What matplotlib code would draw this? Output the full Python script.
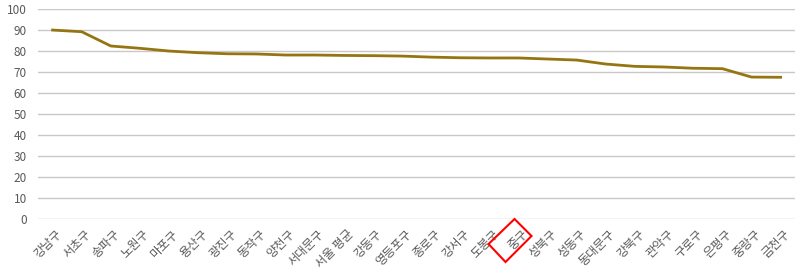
import matplotlib.pyplot as plt
import matplotlib.transforms as mtransforms
from matplotlib.patches import Polygon

plt.rcParams['font.family'] = ['Noto Sans CJK KR', 'DejaVu Sans']

districts = ['강남구', '서초구', '송파구', '노원구', '마포구', '용산구', '광진구', '동작구',
             '양천구', '서대문구', '서울 평균', '강동구', '영등포구', '종로구', '강서구', '도봉구',
             '중구', '성북구', '성동구', '동대문구', '강북구', '관악구', '구로구', '은평구',
             '중랑구', '금천구']
scores = [90.0, 89.2, 82.4, 81.3, 80.0, 79.2, 78.7, 78.6, 78.1, 78.1, 77.9, 77.8, 77.6,
          77.1, 76.8, 76.7, 76.7, 76.2, 75.7, 73.8, 72.7, 72.4, 71.8, 71.6, 67.6, 67.5]
y_ticks = list(range(0, 101, 10))
highlight = '중구'

fig = plt.figure(figsize=(8, 2.74), dpi=100)
ax = fig.add_axes([0.0475, 0.2007, 0.9465, 0.7663])

xs = list(range(len(districts)))
ax.plot(xs, scores, color='#957512', linewidth=2.0, solid_joinstyle='round')

ax.set_xlim(-0.5, len(districts) - 0.5)
ax.set_ylim(0, 100)
ax.set_yticks(y_ticks)
ax.set_xticks(xs)
ax.set_xticklabels(districts, rotation=45, ha='right', rotation_mode='anchor',
                   fontsize=8.8, color='#595959')
ax.tick_params(axis='y', labelsize=8.5, labelcolor='#595959', length=0, pad=8)
ax.tick_params(axis='x', length=0, pad=6)
ax.grid(axis='y', color='#C8C8C8', linewidth=1)
ax.set_axisbelow(True)
for s in ax.spines.values():
    s.set_visible(False)

# nudge the slanted labels a little to the right, like Excel does
shift = mtransforms.ScaledTranslation(0.03, 0, fig.dpi_scale_trans)
for lbl in ax.get_xticklabels():
    lbl.set_transform(lbl.get_transform() + shift)

# red diamond around the highlighted label
hx = districts.index(highlight)
offset = mtransforms.ScaledTranslation(hx, 0, ax.transData)
diamond = Polygon([(-0.04, 0.0), (0.13, -0.17), (-0.13, -0.43), (-0.30, -0.25)],
                  closed=True, fill=False, edgecolor='red', linewidth=1.5,
                  transform=fig.dpi_scale_trans + offset, clip_on=False)
ax.add_patch(diamond)

fig.savefig('out.png', dpi=100)
